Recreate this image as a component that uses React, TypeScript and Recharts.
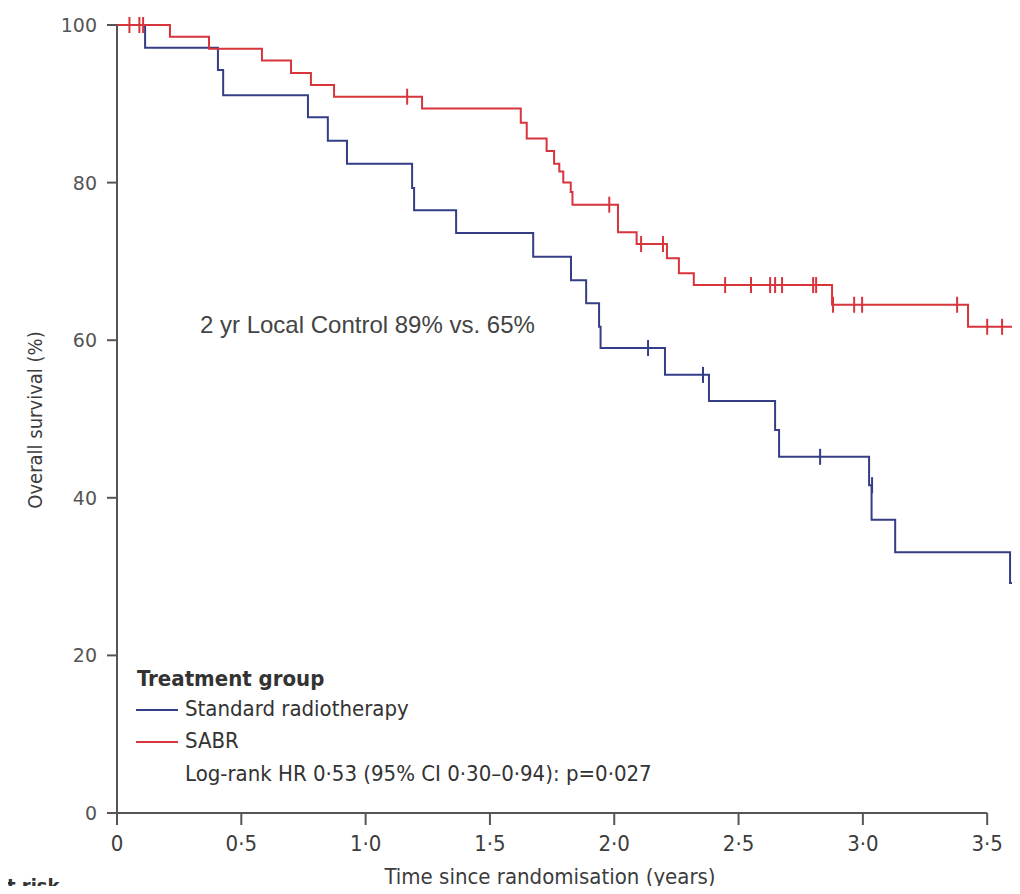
import { ComposedChart, Line, Scatter, XAxis, YAxis, ReferenceLine } from "recharts";

const X_TICKS = [0, 0.5, 1, 1.5, 2, 2.5, 3, 3.5];
const Y_TICKS = [0, 20, 40, 60, 80, 100];
const X_MAX = 3.632;

// SABR (red) Kaplan-Meier steps
const sabrTimes = [0, 0.213, 0.37, 0.583, 0.7, 0.78, 0.873, 1.227, 1.624, 1.648, 1.728, 1.758, 1.779, 1.795, 1.825, 1.832, 2.015, 2.09, 2.212, 2.26, 2.32, 2.876, 3.423, X_MAX];
const sabrSurv = [100, 98.5, 97.0, 95.5, 93.9, 92.4, 90.9, 89.4, 87.6, 85.6, 84.0, 82.4, 81.4, 80.0, 78.8, 77.2, 73.7, 72.2, 70.4, 68.5, 67.0, 64.5, 61.7, 61.7];
const sabrCensorTimes = [0.05, 0.09, 0.105, 1.167, 1.98, 2.108, 2.196, 2.446, 2.55, 2.627, 2.647, 2.675, 2.8, 2.812, 2.88, 2.965, 2.997, 3.379, 3.5, 3.56];
const sabrCensorSurv = [100, 100, 100, 90.9, 77.2, 72.2, 72.2, 67.0, 67.0, 67.0, 67.0, 67.0, 67.0, 67.0, 64.5, 64.5, 64.5, 64.5, 61.7, 61.7];

// Standard radiotherapy (blue)
const stdTimes = [0, 0.113, 0.406, 0.427, 0.768, 0.848, 0.925, 1.187, 1.195, 1.364, 1.674, 1.826, 1.887, 1.939, 1.945, 2.204, 2.381, 2.647, 2.663, 3.025, 3.035, 3.13, 3.592, X_MAX];
const stdSurv = [100, 97.1, 94.3, 91.1, 88.3, 85.3, 82.4, 79.3, 76.5, 73.6, 70.6, 67.6, 64.7, 61.7, 59.0, 55.6, 52.3, 48.6, 45.2, 41.6, 37.2, 33.1, 29.2, 29.2];
const stdCensorTimes = [2.136, 2.357, 2.828, 3.037];
const stdCensorSurv = [59.0, 55.6, 45.2, 41.6];

const RED = "#d8343c";
const BLUE = "#343d86";
const AXIS = "#555";
const NARROW = '"Liberation Sans Narrow", "DejaVu Sans Condensed", "Open Sans", sans-serif';

const toRows = (ts: number[], ss: number[]) => ts.map((t, i) => ({ t, s: ss[i] }));

function fmtX(v: number) {
  return v === 0 ? "0" : v.toFixed(1).replace(".", "·");
}

function XTick({ x, y, payload }: any) {
  return (
    <text x={x} y={y} dy={24} textAnchor="middle" fontSize={22} fill="#3c3c3c" fontFamily={NARROW}>
      {fmtX(payload.value)}
    </text>
  );
}

function YTick({ x, y, payload }: any) {
  return (
    <text x={x - 8} y={y} dy={7} textAnchor="end" fontSize={19} fill="#555" fontFamily='"DejaVu Sans", sans-serif'>
      {payload.value}
    </text>
  );
}

const censor = (color: string) => (props: any) => {
  const { cx, cy } = props;
  if (cx == null || cy == null) return <g />;
  return <line x1={cx} x2={cx} y1={cy - 8} y2={cy + 8} stroke={color} strokeWidth={2} />;
};

export default function App() {
  const sabr = toRows(sabrTimes, sabrSurv);
  const std = toRows(stdTimes, stdSurv);
  const sabrC = toRows(sabrCensorTimes, sabrCensorSurv);
  const stdC = toRows(stdCensorTimes, stdCensorSurv);

  return (
    <div style={{ position: "relative", width: 1020, height: 894, margin: -8, overflow: "hidden", background: "#fff" }}>
      <ComposedChart width={1020} height={894} margin={{ top: 25, right: 0, bottom: 41, left: 0 }}>
        <XAxis
          type="number"
          dataKey="t"
          domain={[0, X_MAX]}
          ticks={X_TICKS}
          axisLine={false}
          tickLine={{ stroke: AXIS, strokeWidth: 2 }}
          tickSize={12}
          height={40}
          tick={<XTick />}
          allowDataOverflow
        />
        <YAxis
          type="number"
          domain={[0, 100]}
          ticks={Y_TICKS}
          width={117}
          axisLine={{ stroke: AXIS, strokeWidth: 2 }}
          tickLine={{ stroke: AXIS, strokeWidth: 2 }}
          tickSize={10}
          tick={<YTick />}
        />
        <ReferenceLine segment={[{ x: 0, y: 0 }, { x: 3.5, y: 0 }]} stroke={AXIS} strokeWidth={2} />
        <Line data={std} dataKey="s" type="stepAfter" stroke={BLUE} strokeWidth={2} dot={false} isAnimationActive={false} />
        <Line data={sabr} dataKey="s" type="stepAfter" stroke={RED} strokeWidth={2} dot={false} isAnimationActive={false} />
        <Scatter data={stdC} dataKey="s" shape={censor(BLUE)} isAnimationActive={false} />
        <Scatter data={sabrC} dataKey="s" shape={censor(RED)} isAnimationActive={false} />
      </ComposedChart>

      <div style={{ position: "absolute", left: 200, top: 311, fontFamily: '"Liberation Sans", Arial, sans-serif', fontSize: 24, color: "#444", whiteSpace: "nowrap" }}>
        2 yr Local Control 89% vs. 65%
      </div>

      <div style={{ position: "absolute", left: 35, top: 420, transform: "translate(-50%, -50%) rotate(-90deg)", fontFamily: NARROW, fontSize: 20, color: "#3c3c3c", whiteSpace: "nowrap" }}>
        Overall survival (%)
      </div>

      <div style={{ position: "absolute", left: 550, top: 876, transform: "translate(-50%, -50%)", fontFamily: NARROW, fontSize: 22, color: "#3c3c3c", whiteSpace: "nowrap" }}>
        Time since randomisation (years)
      </div>

      <div style={{ position: "absolute", left: -7, top: 874, fontFamily: NARROW, fontSize: 20, fontWeight: 700, color: "#333", whiteSpace: "nowrap" }}>
        At risk
      </div>

      <div style={{ position: "absolute", left: 137, top: 666, fontFamily: NARROW, fontSize: 22, fontWeight: 700, color: "#333", whiteSpace: "nowrap" }}>
        Treatment group
      </div>
      <div style={{ position: "absolute", left: 136, top: 709, width: 42, height: 2, background: BLUE }} />
      <div style={{ position: "absolute", left: 185, top: 696, fontFamily: NARROW, fontSize: 22, color: "#333", whiteSpace: "nowrap" }}>
        Standard radiotherapy
      </div>
      <div style={{ position: "absolute", left: 136, top: 741, width: 42, height: 2, background: RED }} />
      <div style={{ position: "absolute", left: 185, top: 728, fontFamily: NARROW, fontSize: 22, color: "#333", whiteSpace: "nowrap" }}>
        SABR
      </div>
      <div style={{ position: "absolute", left: 185, top: 761, fontFamily: NARROW, fontSize: 22, color: "#333", whiteSpace: "nowrap" }}>
        Log-rank HR 0·53 (95% CI 0·30–0·94): p=0·027
      </div>
    </div>
  );
}
